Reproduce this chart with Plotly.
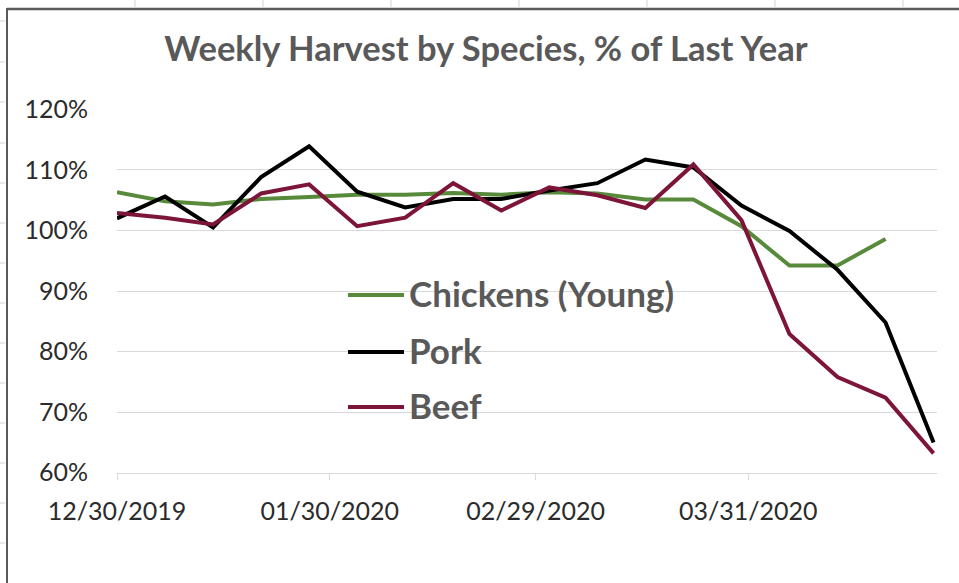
import plotly.graph_objects as go

# ---------------- data ----------------
weeks = ["2019-12-30", "2020-01-06", "2020-01-13", "2020-01-20", "2020-01-27",
         "2020-02-03", "2020-02-10", "2020-02-17", "2020-02-24", "2020-03-02",
         "2020-03-09", "2020-03-16", "2020-03-23", "2020-03-30", "2020-04-06",
         "2020-04-13", "2020-04-20", "2020-04-27"]

chickens = [1.063, 1.048, 1.043, 1.052, 1.055, 1.059, 1.059, 1.062, 1.059,
            1.063, 1.061, 1.051, 1.051, 1.007, 0.942, 0.942, 0.986]
pork = [1.020, 1.056, 1.005, 1.088, 1.139, 1.064, 1.038, 1.052, 1.052,
        1.066, 1.078, 1.117, 1.104, 1.041, 0.999, 0.935, 0.848, 0.650]
beef = [1.029, 1.021, 1.010, 1.061, 1.076, 1.007, 1.021, 1.078, 1.033,
        1.071, 1.058, 1.037, 1.109, 1.017, 0.829, 0.758, 0.724, 0.632]

series_names = ["Chickens (Young)", "Pork", "Beef"]
series_colors = ["#588A3B", "#000000", "#7C1537"]

x_tick_vals = ["2019-12-30", "2020-01-30", "2020-02-29", "2020-03-31"]
x_tick_text = ["12/30/2019", "01/30/2020", "02/29/2020", "03/31/2020"]
y_tick_vals = [0.6, 0.7, 0.8, 0.9, 1.0, 1.1, 1.2]

title_text = "Weekly Harvest by Species, % of Last Year"

# ---------------- layout geometry (pixels) ----------------
W, H = 959, 583
PL, PR, PT, PB = 117, 937, 109, 473   # plot area edges


def px_x(px):
    return (px - PL) / (PR - PL)


def px_y(py):
    return (PB - py) / (PB - PT)


FONT = "Lato, 'Open Sans', sans-serif"
LINE_W = 4

fig = go.Figure()
for name, vals, col in zip(series_names, [chickens, pork, beef], series_colors):
    fig.add_trace(go.Scatter(
        x=weeks[:len(vals)], y=vals, name=name, mode="lines",
        line=dict(color=col, width=LINE_W), showlegend=False,
    ))

shapes = []
annotations = []
# legend box (white, breaks the gridlines like the Excel legend)
shapes.append(dict(type="rect", xref="paper", yref="paper",
                   x0=px_x(323), x1=px_x(692), y0=px_y(438), y1=px_y(266),
                   fillcolor="white", line=dict(width=0), layer="between"))
legend_rows = [295, 352, 407]
for name, col, ry in zip(series_names, series_colors, legend_rows):
    shapes.append(dict(type="line", xref="paper", yref="paper",
                       x0=px_x(348), x1=px_x(404), y0=px_y(ry), y1=px_y(ry),
                       line=dict(color=col, width=LINE_W), layer="above"))
    annotations.append(dict(text="<b>%s</b>" % name, xref="paper", yref="paper",
                            x=px_x(407), y=px_y(ry - 2), xanchor="left",
                            yanchor="middle", showarrow=False,
                            font=dict(family=FONT, size=35, color="#595959")))

# chart-area border (top and left)
shapes.append(dict(type="line", xref="paper", yref="paper",
                   x0=px_x(7), x1=px_x(W + 5), y0=px_y(9), y1=px_y(9),
                   line=dict(color="#5a5a5a", width=2.5), layer="above"))
shapes.append(dict(type="line", xref="paper", yref="paper",
                   x0=px_x(7), x1=px_x(7), y0=px_y(8), y1=px_y(H + 5),
                   line=dict(color="#5a5a5a", width=2), layer="above"))
# spreadsheet cell dividers visible outside the chart
for cx in [135, 263, 391, 519, 647, 775, 903]:
    shapes.append(dict(type="line", xref="paper", yref="paper",
                       x0=px_x(cx), x1=px_x(cx), y0=px_y(0), y1=px_y(7),
                       line=dict(color="#d4d4d4", width=1), layer="above"))
for ry in [21, 62, 102, 143, 183, 223, 263, 303, 343, 383, 423, 463, 503, 543]:
    shapes.append(dict(type="line", xref="paper", yref="paper",
                       x0=px_x(0), x1=px_x(5), y0=px_y(ry), y1=px_y(ry),
                       line=dict(color="#d4d4d4", width=1), layer="above"))

fig.update_layout(
    width=W, height=H,
    margin=dict(l=PL, r=W - PR, t=PT, b=H - PB, pad=0),
    paper_bgcolor="white", plot_bgcolor="white",
    title=dict(text=title_text, x=486 / W, xanchor="center",
               y=1 - 49 / H, yanchor="middle", yref="container",
               font=dict(family=FONT, size=34.5, color="#595959", weight="bold")),
    xaxis=dict(type="date", range=["2019-12-30", "2020-04-27 12:00"],
               tickmode="array", tickvals=x_tick_vals, ticktext=x_tick_text,
               showgrid=False, zeroline=False,
               showline=True, linecolor="#d9d9d9", linewidth=1,
               ticks="outside", ticklen=6, tickcolor="#d9d9d9", tickwidth=1,
               ticklabelstandoff=10,
               tickfont=dict(family=FONT, size=25, color="#2b2b2b")),
    yaxis=dict(range=[0.5995, 1.2005], tickmode="array", tickvals=y_tick_vals,
               tickformat=".0%", showgrid=True, gridcolor="#d9d9d9", gridwidth=1,
               zeroline=False, showline=False, ticks="",
               ticklabelstandoff=28,
               tickfont=dict(family=FONT, size=25, color="#2b2b2b")),
    showlegend=False,
    shapes=shapes,
    annotations=annotations,
)

fig.write_html("out.html")
